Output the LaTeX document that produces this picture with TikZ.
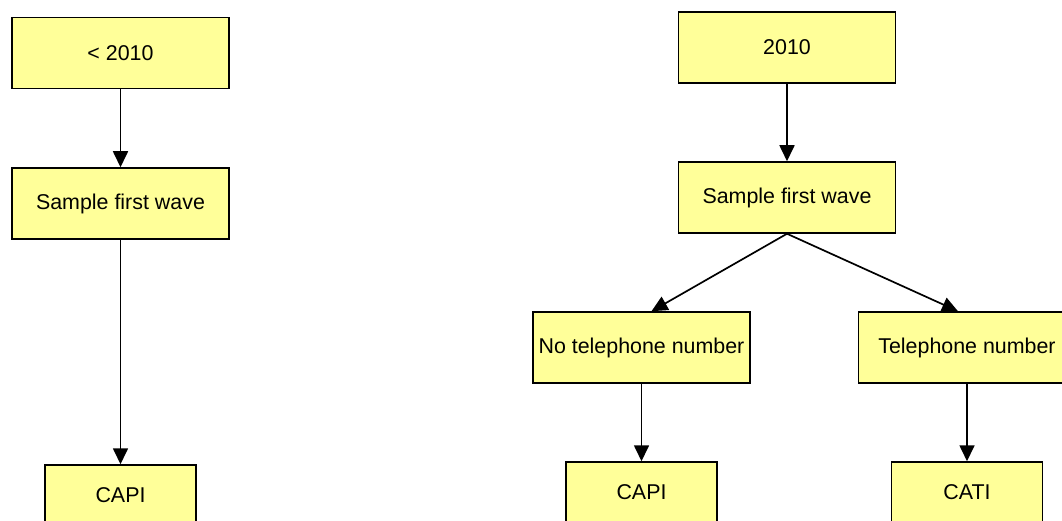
\documentclass[tikz,border=0pt]{standalone}
\usepackage{fontspec}
\setmainfont{Liberation Sans}
\usetikzlibrary{arrows.meta}
\definecolor{boxfill}{RGB}{255,255,153}
\tikzset{
  box/.style={draw=black, line width=1.5pt, fill=boxfill, inner sep=0pt,
    minimum width=217pt, minimum height=71pt, font=\fontsize{21.4}{25}\selectfont},
  smallbox/.style={box, minimum width=151pt, minimum height=60pt},
  link/.style={line width=1.7pt, -{Triangle[length=16pt,width=15pt]}}
}
\begin{document}
\begin{tikzpicture}[x=1pt,y=-1pt]
\useasboundingbox (0,0) rectangle (1062,521);
\clip (0,0) rectangle (1062,521);
% left column
\node[box] (lt) at (120.5,53) {< 2010};
\node[box] (ls) at (120.5,203.5) {Sample first wave};
\node[smallbox] (lc) at (120.5,495) {CAPI};
\draw[link] (lt.south) -- (ls.north);
\draw[link] (ls.south) -- (lc.north);
% right tree
\node[box] (rt) at (787,47.5) {2010};
\node[box] (rs) at (787,197.5) {Sample first wave};
\node[box] (nt) at (641.5,347.5) {No telephone number};
\node[box] (tn) at (967,347.5) {Telephone number};
\node[smallbox] (rc) at (641.5,492) {CAPI};
\node[smallbox] (rca) at (967,492) {CATI};
\draw[link] (rt.south) -- (rs.north);
\draw[link] (rs.south) -- ([xshift=10pt]nt.north);
\draw[link] (rs.south) -- ([xshift=-9pt]tn.north);
\draw[link] (nt.south) -- (rc.north);
\draw[link] (tn.south) -- (rca.north);
\end{tikzpicture}
\end{document}
